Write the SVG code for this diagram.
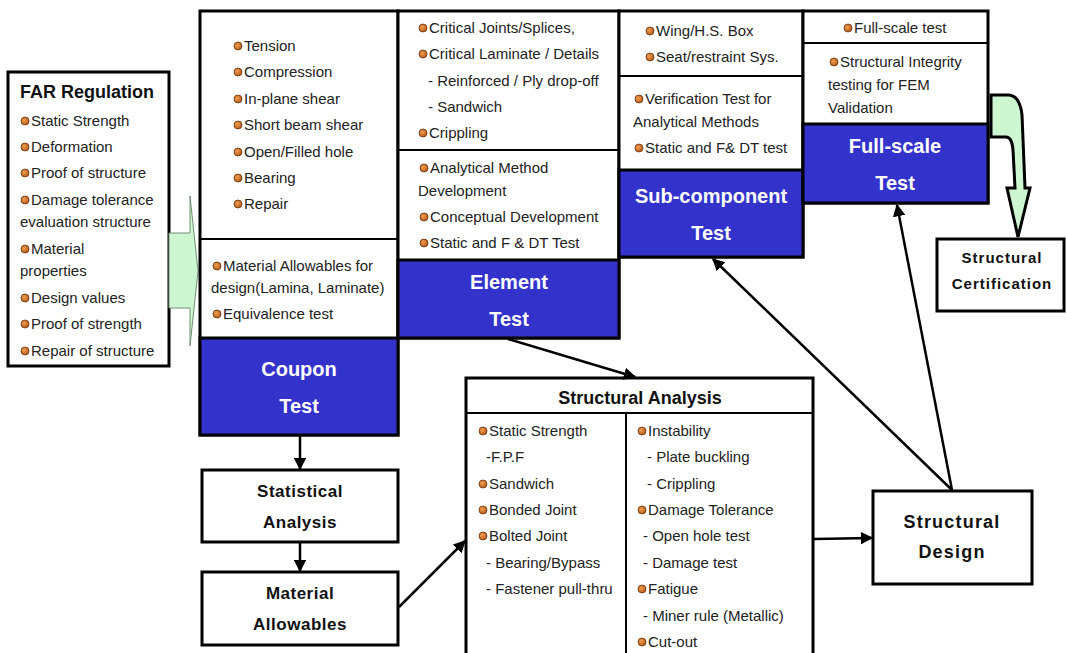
<svg xmlns="http://www.w3.org/2000/svg" width="1066" height="653" viewBox="0 0 1066 653">
<defs>
<style>
.t{font-family:"Liberation Sans",Arial,sans-serif;font-size:15px;fill:#222}
.h{font-family:"Liberation Sans",Arial,sans-serif;font-size:20px;font-weight:bold;fill:#fff;text-anchor:middle}
.b{font-family:"Liberation Sans",Arial,sans-serif;font-weight:bold;fill:#111;text-anchor:middle}
.box{fill:#fff;stroke:#000;stroke-width:3}
.blue{fill:#3333CC;stroke:#000;stroke-width:3}
.div{stroke:#000;stroke-width:2;fill:none}
.con{stroke:#000;stroke-width:2.5;fill:none}
.bul{fill:url(#bg);stroke:#6e3510;stroke-width:0.8}
</style>
<radialGradient id="bg" cx="0.4" cy="0.4" r="0.6">
<stop offset="0" stop-color="#F0A050"/>
<stop offset="1" stop-color="#B85A1A"/>
</radialGradient>
<marker id="ah" viewBox="0 0 10 10" refX="9" refY="5" markerWidth="5" markerHeight="5" orient="auto" markerUnits="strokeWidth">
<path d="M0,0 L10,5 L0,10 Z" fill="#000"/>
</marker>
</defs>
<rect width="1066" height="653" fill="#fff"/>

<g id="far">
<rect class="box" x="8" y="72" width="161" height="294"/>
<text class="t" x="20" y="98" style="font-size:18px;font-weight:bold;fill:#111">FAR Regulation</text>
<circle class="bul" cx="25" cy="121" r="4"/><text class="t" x="31" y="126">Static Strength</text>
<circle class="bul" cx="25" cy="147" r="4"/><text class="t" x="31" y="152">Deformation</text>
<circle class="bul" cx="25" cy="173" r="4"/><text class="t" x="31" y="178">Proof of structure</text>
<circle class="bul" cx="25" cy="200" r="4"/><text class="t" x="31" y="205">Damage tolerance</text>
<text class="t" x="20" y="227">evaluation structure</text>
<circle class="bul" cx="25" cy="249" r="4"/><text class="t" x="31" y="254">Material</text>
<text class="t" x="20" y="276">properties</text>
<circle class="bul" cx="25" cy="298" r="4"/><text class="t" x="31" y="303">Design values</text>
<circle class="bul" cx="25" cy="324" r="4"/><text class="t" x="31" y="329">Proof of strength</text>
<circle class="bul" cx="25" cy="351" r="4"/><text class="t" x="31" y="356">Repair of structure</text>
</g>

<g id="far-arrow">
<path d="M169,233 L190,233 L190,196 L198,271 L190,346 L190,308 L169,308 Z" fill="#CCF7D0" stroke="#6f8f74" stroke-width="1"/>
</g>

<g id="coupon">
<rect class="box" x="200" y="11" width="198" height="424"/>
<line class="div" x1="200" y1="239" x2="398" y2="239"/>
<rect class="blue" x="200" y="338" width="198" height="97"/>
<circle class="bul" cx="238" cy="46" r="4"/><text class="t" x="244" y="51">Tension</text>
<circle class="bul" cx="238" cy="72" r="4"/><text class="t" x="244" y="77">Compression</text>
<circle class="bul" cx="238" cy="99" r="4"/><text class="t" x="244" y="104">In-plane shear</text>
<circle class="bul" cx="238" cy="125" r="4"/><text class="t" x="244" y="130">Short beam shear</text>
<circle class="bul" cx="238" cy="152" r="4"/><text class="t" x="244" y="157">Open/Filled hole</text>
<circle class="bul" cx="238" cy="178" r="4"/><text class="t" x="244" y="183">Bearing</text>
<circle class="bul" cx="238" cy="204" r="4"/><text class="t" x="244" y="209">Repair</text>
<circle class="bul" cx="217" cy="266" r="4"/><text class="t" x="223" y="271">Material Allowables for</text>
<text class="t" x="211" y="293">design(Lamina, Laminate)</text>
<circle class="bul" cx="217" cy="314" r="4"/><text class="t" x="223" y="319">Equivalence test</text>
<text class="h" x="299" y="376">Coupon</text>
<text class="h" x="299" y="413">Test</text>
</g>

<g id="element">
<rect class="box" x="398" y="11" width="221" height="327"/>
<line class="div" x1="398" y1="150" x2="619" y2="150"/>
<rect class="blue" x="398" y="260" width="221" height="78"/>
<circle class="bul" cx="423" cy="28" r="4"/><text class="t" x="429" y="33">Critical Joints/Splices,</text>
<circle class="bul" cx="423" cy="54" r="4"/><text class="t" x="429" y="59">Critical Laminate / Details</text>
<text class="t" x="428" y="86">- Reinforced / Ply drop-off</text>
<text class="t" x="428" y="112">- Sandwich</text>
<circle class="bul" cx="423" cy="133" r="4"/><text class="t" x="429" y="138">Crippling</text>
<circle class="bul" cx="424" cy="168" r="4"/><text class="t" x="430" y="173">Analytical Method</text>
<text class="t" x="418" y="196">Development</text>
<circle class="bul" cx="424" cy="217" r="4"/><text class="t" x="430" y="222">Conceptual Development</text>
<circle class="bul" cx="424" cy="243" r="4"/><text class="t" x="430" y="248">Static and F &amp; DT Test</text>
<text class="h" x="509" y="289">Element</text>
<text class="h" x="509" y="326">Test</text>
</g>

<g id="subcomponent">
<rect class="box" x="619" y="11" width="184" height="246"/>
<line class="div" x1="619" y1="76" x2="803" y2="76"/>
<rect class="blue" x="619" y="170" width="184" height="87"/>
<circle class="bul" cx="650" cy="31" r="4"/><text class="t" x="656" y="36">Wing/H.S. Box</text>
<circle class="bul" cx="650" cy="57" r="4"/><text class="t" x="656" y="62">Seat/restraint Sys.</text>
<circle class="bul" cx="639" cy="99" r="4"/><text class="t" x="645" y="104">Verification Test for</text>
<text class="t" x="633" y="127">Analytical Methods</text>
<circle class="bul" cx="639" cy="148" r="4"/><text class="t" x="645" y="153">Static and F&amp; DT test</text>
<text class="h" x="711" y="203">Sub-component</text>
<text class="h" x="711" y="240">Test</text>
</g>

<g id="fullscale">
<rect class="box" x="803" y="11" width="185" height="192"/>
<line class="div" x1="803" y1="43" x2="988" y2="43"/>
<rect class="blue" x="803" y="124" width="185" height="79"/>
<circle class="bul" cx="848" cy="28" r="4"/><text class="t" x="854" y="33">Full-scale test</text>
<circle class="bul" cx="834" cy="62" r="4"/><text class="t" x="840" y="67">Structural Integrity</text>
<text class="t" x="828" y="90">testing for FEM</text>
<text class="t" x="828" y="113">Validation</text>
<text class="h" x="895" y="153">Full-scale</text>
<text class="h" x="895" y="190">Test</text>
</g>

<g id="cert-arrow">
<path d="M991,95 L1009,95 Q1020,96 1022,115 L1025,188 L1030,188 L1018,237 L1007,188 L1015,188 L1013,150 Q1012,137 1006,137 L991,137 Z" fill="#CCF7D0" stroke="#000" stroke-width="3" stroke-linejoin="miter"/>
</g>

<g id="certification">
<rect class="box" x="937" y="239" width="127" height="72"/>
<text class="b" x="1002" y="263" style="font-size:15px;letter-spacing:1px">Structural</text>
<text class="b" x="1002" y="289" style="font-size:15px;letter-spacing:1px">Certification</text>
</g>

<g id="statistical">
<rect class="box" x="202" y="470" width="196" height="72"/>
<text class="b" x="300" y="497" style="font-size:17px;letter-spacing:0.5px">Statistical</text>
<text class="b" x="300" y="528" style="font-size:17px;letter-spacing:0.5px">Analysis</text>
</g>

<g id="allowables">
<rect class="box" x="202" y="572" width="196" height="73"/>
<text class="b" x="300" y="599" style="font-size:17px;letter-spacing:0.5px">Material</text>
<text class="b" x="300" y="630" style="font-size:17px;letter-spacing:0.5px">Allowables</text>
</g>

<g id="analysis">
<rect class="box" x="466" y="378" width="347" height="290"/>
<line class="div" x1="466" y1="413" x2="813" y2="413"/>
<line class="div" x1="626" y1="413" x2="626" y2="660"/>
<text class="b" x="640" y="404" style="font-size:18px">Structural Analysis</text>
<circle class="bul" cx="483" cy="431" r="4"/><text class="t" x="489" y="436">Static Strength</text>
<text class="t" x="486" y="462">-F.P.F</text>
<circle class="bul" cx="483" cy="484" r="4"/><text class="t" x="489" y="489">Sandwich</text>
<circle class="bul" cx="483" cy="510" r="4"/><text class="t" x="489" y="515">Bonded Joint</text>
<circle class="bul" cx="483" cy="536" r="4"/><text class="t" x="489" y="541">Bolted Joint</text>
<text class="t" x="486" y="568">- Bearing/Bypass</text>
<text class="t" x="486" y="594">- Fastener pull-thru</text>
<circle class="bul" cx="642" cy="431" r="4"/><text class="t" x="648" y="436">Instability</text>
<text class="t" x="647" y="462">- Plate buckling</text>
<text class="t" x="647" y="489">- Crippling</text>
<circle class="bul" cx="642" cy="510" r="4"/><text class="t" x="648" y="515">Damage Tolerance</text>
<text class="t" x="643" y="541">- Open hole test</text>
<text class="t" x="643" y="568">- Damage test</text>
<circle class="bul" cx="642" cy="589" r="4"/><text class="t" x="648" y="594">Fatigue</text>
<text class="t" x="643" y="621">- Miner rule (Metallic)</text>
<circle class="bul" cx="642" cy="642" r="4"/><text class="t" x="648" y="647">Cut-out</text>
</g>

<g id="design">
<rect class="box" x="873" y="491" width="159" height="93"/>
<text class="b" x="952" y="528" style="font-size:18px;letter-spacing:1.2px">Structural</text>
<text class="b" x="952" y="558" style="font-size:18px;letter-spacing:1.2px">Design</text>
</g>

<g id="connectors">
<line class="con" x1="508" y1="339" x2="635" y2="377" marker-end="url(#ah)"/>
<line class="con" x1="300" y1="436" x2="300" y2="469" marker-end="url(#ah)"/>
<line class="con" x1="300" y1="543" x2="300" y2="571" marker-end="url(#ah)"/>
<line class="con" x1="399" y1="607" x2="465" y2="541" marker-end="url(#ah)"/>
<line class="con" x1="814" y1="539" x2="872" y2="538" marker-end="url(#ah)"/>
<line class="con" x1="952" y1="490" x2="713" y2="259" marker-end="url(#ah)"/>
<line class="con" x1="952" y1="490" x2="897" y2="205" marker-end="url(#ah)"/>
</g>
</svg>
